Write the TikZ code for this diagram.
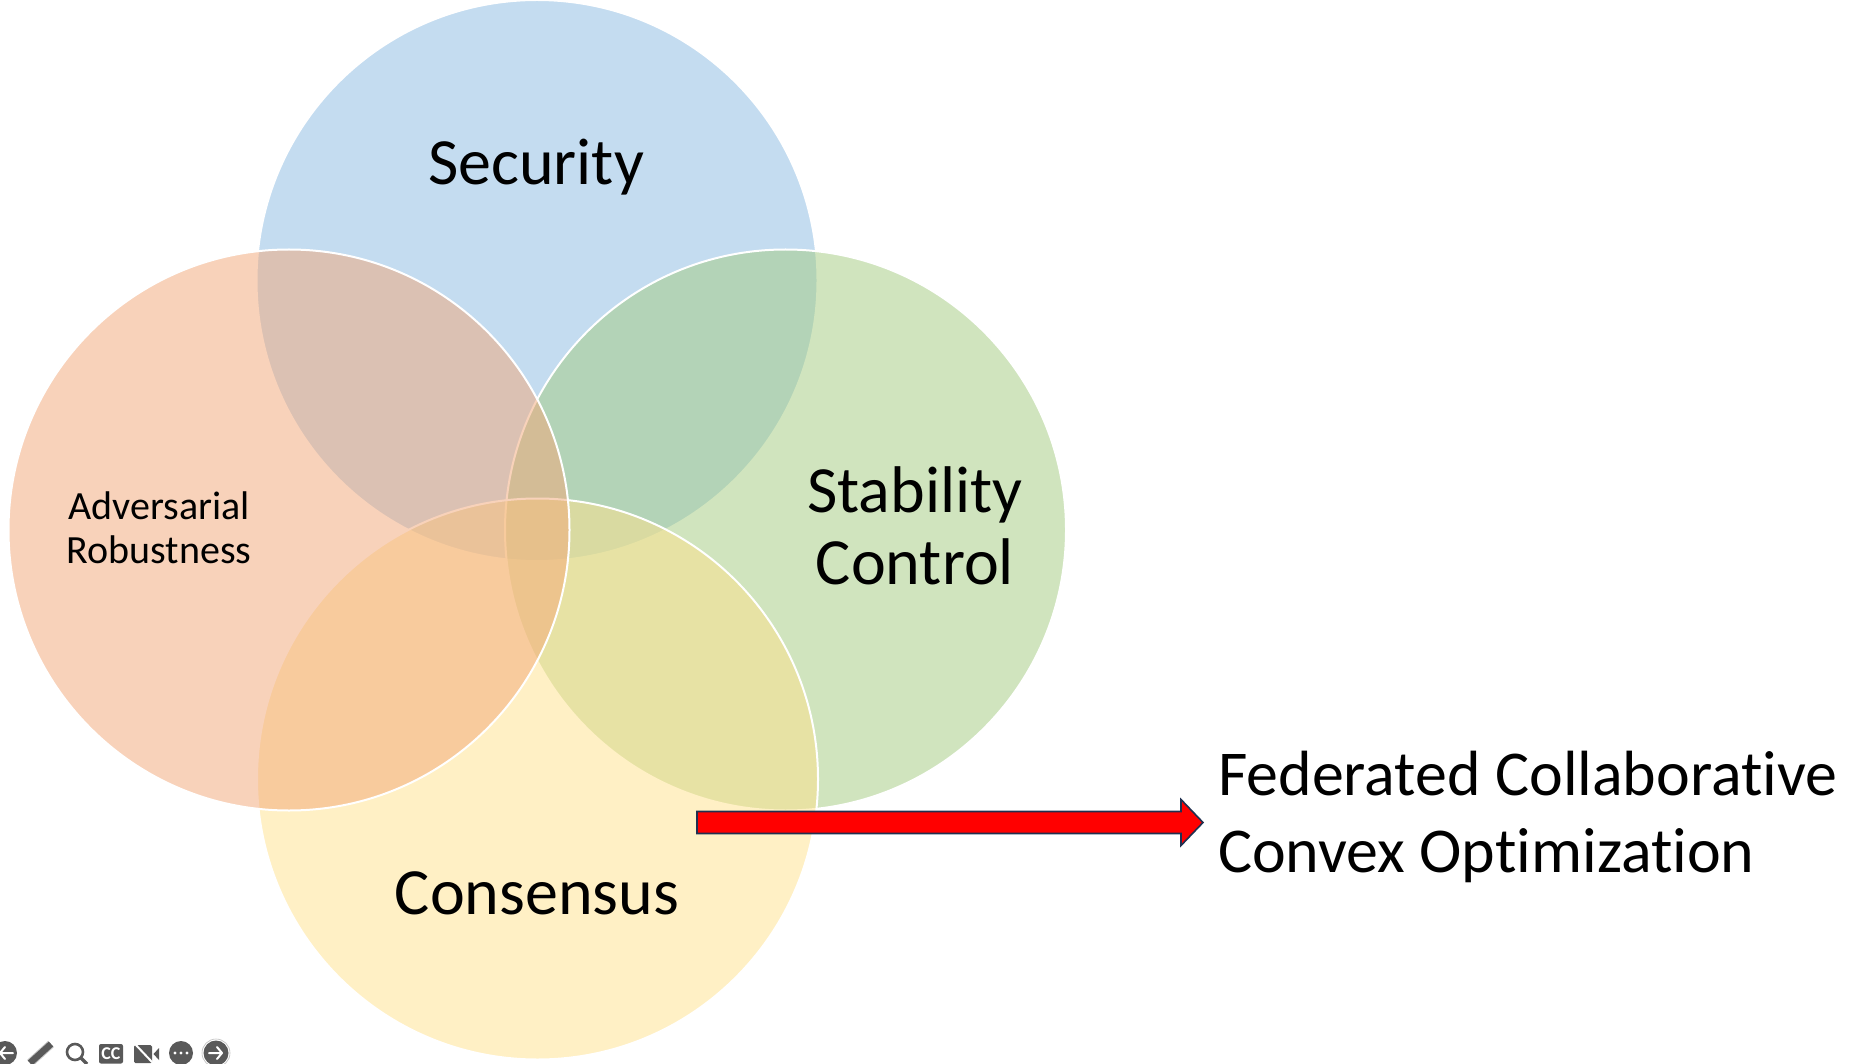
\documentclass[tikz,border=0pt]{standalone}
\usepackage{fontspec}
\setmainfont[Ligatures=NoCommon]{Carlito}
\definecolor{cblue}{RGB}{139,186,226}
\definecolor{cgreen}{RGB}{163,203,127}
\definecolor{cyellow}{RGB}{255,226,140}
\definecolor{corange}{RGB}{243,167,119}
\definecolor{icongrey}{RGB}{89,89,89}
\definecolor{arrowedge}{RGB}{32,48,80}
\tikzset{
  venn/.style={draw=white,line width=2pt,fill opacity=0.5,draw opacity=1},
  bigtext/.style={font=\fontsize{66}{72}\selectfont,align=center,inner sep=0pt,text=black},
  midtext/.style={font=\fontsize{40}{44}\selectfont,align=center,inner sep=0pt,text=black},
  sidetext/.style={font=\fontsize{63.9}{77}\selectfont,align=left,inner sep=0pt,text=black,anchor=west},
  iconfill/.style={fill=icongrey,draw=none},
  iconline/.style={draw=white,line width=2pt,line cap=round,line join=round},
  iconstroke/.style={draw=icongrey,line width=2.6pt},
}
\begin{document}
\begin{tikzpicture}[x=1pt,y=-1pt]
\useasboundingbox (0,0) rectangle (1868,1064);
\fill[white] (0,0) rectangle (1868,1064);
% circles
\fill[cblue,fill opacity=0.5] (537,280.5) circle (280.5);
\draw[white,line width=2pt] (537,280.5) circle (280.5);
\filldraw[venn,fill=cgreen] (785.5,530) circle (280.5);
\filldraw[venn,fill=cyellow] (537.5,779) circle (280.5);
\filldraw[venn,fill=corange] (289,530) circle (280.5);
% labels
\node[bigtext] (security) at (536,167) {Security};
\node[bigtext] (stability) at (915,526) {Stability\\Control};
\node[bigtext] (consensus) at (537,893) {Consensus};
\node[midtext] (adversarial) at (159,528) {Adversarial\\Robustness};
\node[sidetext] (federated) at (1218,817) {Federated Collaborative\\Convex Optimization};
% red arrow
\draw[fill=red,draw=arrowedge,line width=1.6pt,line join=miter]
  (697,811.5) -- (1181,811.5) -- (1181,799.5) -- (1203,822.5) -- (1181,845.5) -- (1181,833.5) -- (697,833.5) -- cycle;
% player controls
\fill[iconfill] (5,1053) circle (12);
\draw[iconline] (13,1053) -- (0,1053) (5,1047) -- (0,1053) -- (5,1059);
\draw[icongrey!35,line width=8.5pt] (30,1063) -- (51,1044);
\draw[icongrey,line width=6.5pt] (30,1063) -- (51,1044);
\draw[iconstroke] (75,1052) circle (8);
\draw[icongrey,line width=3.4pt] (81,1058) -- (87,1064);
\fill[iconfill,rounded corners=2pt] (99,1044) rectangle (123,1063.5);
\node[font=\bfseries\fontsize{18}{18}\selectfont,text=white,inner sep=0pt] (cc) at (111,1054) {CC};
\fill[iconfill,rounded corners=1.5pt] (134,1045) rectangle (152,1063);
\fill[iconfill] (153.5,1054) -- (159,1048) -- (159,1060) -- cycle;
\draw[white,line width=2pt] (135,1044) -- (152,1062);
\fill[iconfill] (181,1053) circle (12);
\fill[white] (175,1053) circle (1.7) (181,1053) circle (1.7) (187,1053) circle (1.7);
\fill[iconfill] (216,1053) circle (12.5);
\draw[icongrey!40,line width=0.6pt] (216,1053) circle (14);
\draw[iconline] (209,1053) -- (222,1053) (217,1047) -- (222,1053) -- (217,1059);
\end{tikzpicture}
\end{document}
